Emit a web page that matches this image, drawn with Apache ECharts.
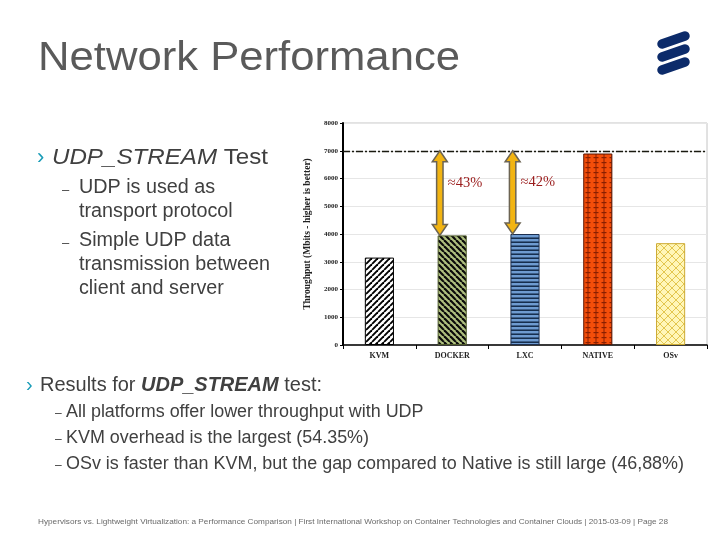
<!DOCTYPE html>
<html>
<head>
<meta charset="utf-8">
<script src="https://cdn.jsdelivr.net/npm/echarts@6/dist/echarts.min.js"></script>
<style>
html,body{margin:0;padding:0;background:#fff;}
#c{width:720px;height:540px;}
</style>
</head>
<body>
<div id="c"></div>
<script>
// ---------------- DATA ----------------
const categories = ['KVM', 'DOCKER', 'LXC', 'NATIVE', 'OSv'];
const throughput = [3150, 3950, 4000, 6900, 3670];
const nativeReference = 7000;
const gapCategories = ['DOCKER', 'LXC'];
const gapTop = [7000, 7000];
const gapBottom = [3950, 4000];
const gapLabels = ['≈43%', '≈42%'];
const yAxisName = 'Throughput (Mbits - higher is better)';
const yMin = 0, yMax = 8000, yStep = 1000;

const slideTitle = 'Network Performance';
const topBulletItalic = 'UDP_STREAM';
const topBulletRest = ' Test';
const topSubLines = ['UDP is used as', 'transport protocol', 'Simple UDP data', 'transmission between', 'client and server'];
const topSubStarts = [true, false, true, false, false];
const resultsPre = 'Results for ';
const resultsBold = 'UDP_STREAM';
const resultsPost = ' test:';
const resultsSubs = [
  'All platforms offer lower throughput with UDP',
  'KVM overhead is the largest (54.35%)',
  'OSv is faster than KVM, but the gap compared to Native is still large (46,88%)'
];
const footerText = 'Hypervisors vs. Lightweight Virtualization: a Performance Comparison | First International Workshop on Container Technologies and Container Clouds | 2015-03-09 | Page 28';

// ---------------- PATTERNS ----------------
function pat(w, h, bg, fn) {
  const c = document.createElement('canvas');
  c.width = w; c.height = h;
  const g = c.getContext('2d');
  g.fillStyle = bg; g.fillRect(0, 0, w, h);
  fn(g, w, h);
  return c;
}
const patterns = [
  pat(6, 6, '#ffffff', (g, w, h) => {
    g.strokeStyle = '#000'; g.lineWidth = 1.9;
    for (let k = -1; k <= 1; k++) { g.beginPath(); g.moveTo(k * w, h); g.lineTo(k * w + w, 0); g.stroke(); }
  }),
  pat(6, 6, '#AFC07F', (g, w, h) => {
    g.strokeStyle = '#0a0a0a'; g.lineWidth = 2.2;
    for (let k = -1; k <= 1; k++) { g.beginPath(); g.moveTo(k * w, 0); g.lineTo(k * w + w, h); g.stroke(); }
  }),
  pat(4, 4, '#6E9BD1', (g, w, h) => {
    g.fillStyle = '#0D2340'; g.fillRect(0, 1.5, w, 1.4);
  }),
  pat(8, 5, '#F44E0A', (g, w, h) => {
    g.fillStyle = '#8A1F00';
    g.fillRect(3.5, 0, 1, h);
    g.fillRect(1.5, 2, 5, 1.2);
  }),
  pat(8, 8, '#FFF6B8', (g, w, h) => {
    g.strokeStyle = '#E3C64E'; g.lineWidth = 1;
    for (let k = -1; k <= 1; k++) {
      g.beginPath(); g.moveTo(k * w, h); g.lineTo(k * w + w, 0); g.stroke();
      g.beginPath(); g.moveTo(k * w, 0); g.lineTo(k * w + w, h); g.stroke();
    }
  })
];
const borders = ['#000000', '#4d5a2a', '#1d2f4f', '#5A1500', '#CCAA33'];

// ---------------- TEXT HELPERS ----------------
const mctx = document.createElement('canvas').getContext('2d');
function measure(font, t) { mctx.font = font; return mctx.measureText(t).width; }
function runLine(x, y, parts, scale) {
  const s = scale || 1;
  let cx = x; const els = [];
  parts.forEach(p => {
    els.push({ type: 'text', x: cx, y: y, scaleX: s, silent: true,
      style: { text: p.t, font: p.font, fill: p.fill, textVerticalAlign: 'middle', verticalAlign: 'middle' } });
    cx += measure(p.font, p.t) * s;
  });
  return els;
}
function fitScale(parts, targetW) {
  return targetW / parts.reduce((s, p) => s + measure(p.font, p.t), 0);
}
const SANS = '"Liberation Sans", Arial, sans-serif';
const TXT = '#404040';
const TEAL = '#1B9DB8';

const graphics = [];
const titleParts = [{ t: slideTitle, font: '40px ' + SANS, fill: '#5A5A5A' }];
graphics.push(...runLine(38, 59, titleParts, fitScale(titleParts, 422)));
graphics.push(...runLine(37, 158, [{ t: '›', font: '22px ' + SANS, fill: TEAL }]));
const b1 = [
  { t: topBulletItalic, font: 'italic 22px ' + SANS, fill: TXT },
  { t: topBulletRest, font: '22px ' + SANS, fill: TXT }];
graphics.push(...runLine(52, 158, b1, fitScale(b1, 216)));
const topY = [188, 212, 241, 265, 289];
const subFont = '19.5px ' + SANS;
const subScale = fitScale([{ t: topSubLines[3], font: subFont }], 191);
topSubLines.forEach((t, i) => {
  if (topSubStarts[i]) graphics.push(...runLine(62, topY[i] + 2, [{ t: '–', font: '13px ' + SANS, fill: TXT }]));
  graphics.push(...runLine(79, topY[i], [{ t: t, font: subFont, fill: TXT }], subScale));
});
graphics.push(...runLine(26, 385, [{ t: '›', font: '20px ' + SANS, fill: TEAL }]));
const rl = [
  { t: resultsPre, font: '20px ' + SANS, fill: TXT },
  { t: resultsBold, font: 'italic bold 20px ' + SANS, fill: TXT },
  { t: resultsPost, font: '20px ' + SANS, fill: TXT }];
graphics.push(...runLine(40, 385, rl, fitScale(rl, 282)));
const resY = [412, 438, 464];
const resFont = '17.5px ' + SANS;
const resScale = fitScale([{ t: resultsSubs[2], font: resFont }], 618);
resultsSubs.forEach((t, i) => {
  graphics.push(...runLine(55, resY[i] + 2, [{ t: '–', font: '12px ' + SANS, fill: TXT }]));
  graphics.push(...runLine(66, resY[i], [{ t: t, font: resFont, fill: TXT }], resScale));
});
const ft = [{ t: footerText, font: '8px ' + SANS, fill: '#6a6a6a' }];
graphics.push(...runLine(38, 522, ft, fitScale(ft, 630)));
// logo
for (let i = 0; i < 3; i++) {
  graphics.push({ type: 'line', silent: true,
    shape: { x1: 662, y1: 44 + 13 * i, x2: 685, y2: 36 + 13 * i },
    style: { stroke: '#0C2B6A', lineWidth: 9.5, lineCap: 'round' } });
}

// ---------------- CHART ----------------
const chart = echarts.init(document.getElementById('c'), null, { renderer: 'canvas', width: 720, height: 540 });
const SERIF = '"Liberation Serif", "Times New Roman", serif';

chart.setOption({
  animation: false,
  backgroundColor: '#ffffff',
  grid: { left: 343, right: 13, top: 123, bottom: 195, show: true, borderColor: '#c4c4c4', borderWidth: 1 },
  xAxis: {
    type: 'category', data: categories,
    axisLine: { lineStyle: { color: '#000', width: 1.5 } },
    axisTick: { show: true, alignWithLabel: false, length: 4, lineStyle: { color: '#000' } },
    axisLabel: { fontFamily: SERIF, fontWeight: 'bold', fontSize: 8, color: '#222', margin: 7 }
  },
  yAxis: {
    type: 'value', min: yMin, max: yMax, interval: yStep,
    name: yAxisName, nameLocation: 'middle', nameGap: 30,
    nameTextStyle: { fontFamily: SERIF, fontWeight: 'bold', fontSize: 9.5, color: '#222' },
    axisLine: { show: true, lineStyle: { color: '#000', width: 2 } },
    axisTick: { show: true, length: 3, lineStyle: { color: '#000' } },
    axisLabel: { fontFamily: SERIF, fontWeight: 'bold', fontSize: 7, color: '#222', margin: 5,
      formatter: v => String(v) },
    splitLine: { show: true, lineStyle: { color: '#e6e6e6', width: 1 } }
  },
  series: [
    {
      type: 'bar', barWidth: '40%', z: 2,
      data: throughput.map((v, i) => ({
        value: v,
        itemStyle: { color: { image: patterns[i], repeat: 'repeat' }, borderColor: borders[i], borderWidth: 1 }
      })),
      markLine: {
        silent: true, symbol: ['none', 'none'], label: { show: false },
        lineStyle: { color: '#1a1a10', width: 1.3, type: [7, 2, 2, 2] },
        data: [{ yAxis: nativeReference }]
      }
    },
    {
      type: 'custom', z: 5, silent: true,
      data: gapCategories.map((c, i) => [c, gapTop[i], gapBottom[i]]),
      renderItem: function (params, api) {
        const cat = api.value(0);
        const p1 = api.coord([cat, api.value(1)]);
        const p2 = api.coord([cat, api.value(2)]);
        const band = api.size([1, 0])[0];
        const x = p1[0] - band * 0.17;
        const y1 = p1[1], y2 = p2[1];
        const hw = 7.5, sw = 3.2, hl = 11;
        const pts = [
          [x, y1], [x + hw, y1 + hl], [x + sw, y1 + hl], [x + sw, y2 - hl], [x + hw, y2 - hl],
          [x, y2], [x - hw, y2 - hl], [x - sw, y2 - hl], [x - sw, y1 + hl], [x - hw, y1 + hl]
        ];
        return {
          type: 'group',
          children: [
            { type: 'polygon', shape: { points: pts }, style: { fill: '#F2B412', stroke: '#6C6453', lineWidth: 1.5 } },
            { type: 'text', x: x + 8, y: (y1 + y2) / 2 - 10,
              style: { text: gapLabels[params.dataIndex], font: '14.5px ' + SERIF, fill: '#9A1B1B', textVerticalAlign: 'middle', verticalAlign: 'middle' } }
          ]
        };
      }
    }
  ],
  graphic: { elements: graphics }
});
</script>
</body>
</html>
